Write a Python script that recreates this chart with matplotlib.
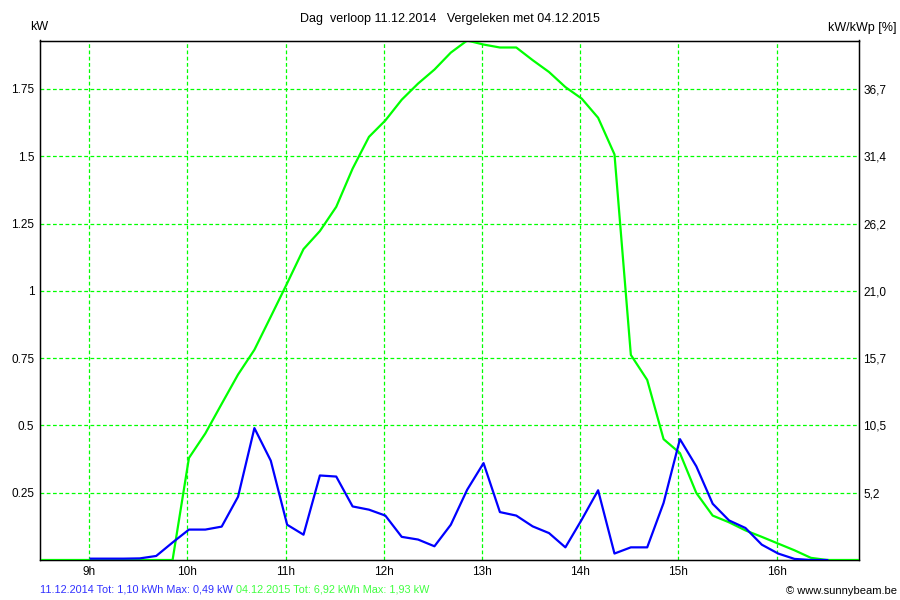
import matplotlib
matplotlib.use("Agg")
import matplotlib.pyplot as plt

plt.rcParams['font.family'] = ['Liberation Sans', 'DejaVu Sans']

# 10 minute samples, time as "HH:MM"
blue_times = ["09:01", "09:11", "09:21", "09:31", "09:41", "09:51",
              "10:01", "10:11", "10:21", "10:31", "10:41", "10:51",
              "11:01", "11:11", "11:21", "11:31", "11:41", "11:51",
              "12:01", "12:11", "12:21", "12:31", "12:41", "12:51",
              "13:01", "13:11", "13:21", "13:31", "13:41", "13:51",
              "14:01", "14:11", "14:21", "14:31", "14:41", "14:51",
              "15:01", "15:11", "15:21", "15:31", "15:41", "15:51",
              "16:01", "16:11", "16:21", "16:31"]
blue_kw = [0.005, 0.005, 0.005, 0.006, 0.015, 0.065,
           0.113, 0.113, 0.124, 0.235, 0.49, 0.369,
           0.131, 0.094, 0.314, 0.31, 0.199, 0.187,
           0.165, 0.086, 0.076, 0.051, 0.131, 0.261,
           0.36, 0.178, 0.165, 0.125, 0.10, 0.047,
           0.15, 0.259, 0.024, 0.047, 0.047, 0.212,
           0.449, 0.348, 0.209, 0.147, 0.119, 0.057,
           0.024, 0.004, 0.0, 0.0]

green_times = ["08:31", "08:41", "08:51", "09:01", "09:11", "09:21", "09:31", "09:41", "09:51",
               "10:01", "10:11", "10:21", "10:31", "10:41", "10:51",
               "11:01", "11:11", "11:21", "11:31", "11:41", "11:51",
               "12:01", "12:11", "12:21", "12:31", "12:41", "12:51",
               "13:01", "13:11", "13:21", "13:31", "13:41", "13:51",
               "14:01", "14:11", "14:21", "14:31", "14:41", "14:51",
               "15:01", "15:11", "15:21", "15:31", "15:41", "15:51",
               "16:01", "16:11", "16:21", "16:31", "16:41", "16:51"]
green_kw = [0, 0, 0, 0, 0, 0, 0, 0, 0,
            0.379, 0.47, 0.58, 0.689, 0.781, 0.904,
            1.028, 1.155, 1.222, 1.312, 1.454, 1.572,
            1.633, 1.71, 1.77, 1.822, 1.885, 1.93,
            1.915, 1.904, 1.904, 1.857, 1.813, 1.757,
            1.714, 1.643, 1.507, 0.762, 0.669, 0.449,
            0.397, 0.249, 0.165, 0.14, 0.11, 0.086,
            0.061, 0.036, 0.008, 0, 0, 0]

kwp = 4.77  # installed peak, for the % axis
y_ticks = [0.25, 0.5, 0.75, 1, 1.25, 1.5, 1.75]
y_labels = ["0.25", "0.5", "0.75", "1", "1.25", "1.5", "1.75"]
x_hours = [9, 10, 11, 12, 13, 14, 15, 16]

title = "Dag  verloop 11.12.2014   Vergeleken met 04.12.2015"
blue_info = "11.12.2014 Tot: 1,10 kWh Max: 0,49 kW"
green_info = "04.12.2015 Tot: 6,92 kWh Max: 1,93 kW"


def to_hours(ts):
    return [int(t[:2]) + int(t[3:]) / 60 for t in ts]


fig = plt.figure(figsize=(9, 6), dpi=100)
ax = fig.add_axes([40 / 900, 40 / 600, 819 / 900, 519.5 / 600])

ax.plot(to_hours(green_times), green_kw, color="#00ff00", lw=1.6, zorder=3)
ax.plot(to_hours(blue_times), blue_kw, color="#0000ff", lw=1.6, zorder=4)

ax.set_xlim(8.5, 16.84)
ax.set_ylim(0, 1.93)
ax.set_xticks(x_hours)
ax.set_xticklabels([f"{h}h" for h in x_hours])
ax.set_yticks(y_ticks)
ax.set_yticklabels(y_labels)
ax.tick_params(length=0, labelsize=8.5, pad=4)
ax.grid(True, color="#00ff00", linestyle=(0, (3, 2)), linewidth=0.9)
for s in ax.spines.values():
    s.set_linewidth(1.0)
    s.set_color("black")

# right axis in % of kWp
ax2 = ax.twinx()
ax2.set_ylim(ax.get_ylim())
ax2.set_yticks(y_ticks)
ax2.set_yticklabels([f"{v * 100 / kwp:.1f}".replace(".", ",") for v in y_ticks])
ax2.tick_params(length=0, labelsize=8.5, pad=3)

fig.text(450 / 900, 1 - 19 / 600, title, ha="center", va="center", fontsize=9)
fig.text(30 / 900, 1 - 27 / 600, "kW", ha="left", va="center", fontsize=9)
fig.text(897 / 900, 1 - 28 / 600, "kW/kWp [%]", ha="right", va="center", fontsize=9)

# bottom info line: blue day then green day right after it
t1 = fig.text(40 / 900, 1 - 589 / 600, blue_info, ha="left", va="center",
              fontsize=7.8, color="#3030ff")
ax.annotate(green_info, xy=(1, 0.5), xycoords=t1, xytext=(2, 0),
            textcoords="offset points", ha="left", va="center",
            fontsize=7.8, color="#40ff40", annotation_clip=False)
fig.text(897 / 900, 1 - 591 / 600, "© www.sunnybeam.be", ha="right", va="center",
         fontsize=8)

fig.savefig("out.png", dpi=100)
